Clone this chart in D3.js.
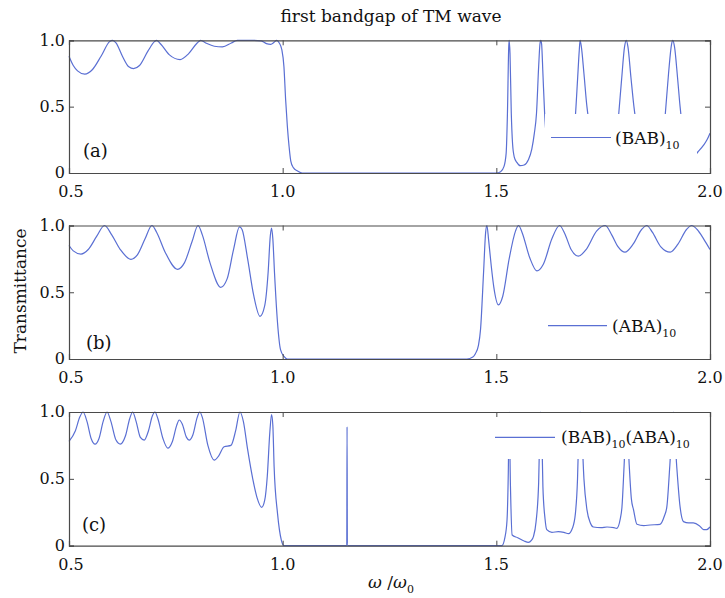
<!DOCTYPE html>
<html><head><meta charset="utf-8">
<script src="https://cdn.jsdelivr.net/npm/d3@7"></script>
<style>
html,body{margin:0;padding:0;background:#fff;}
svg{display:block;font-family:"DejaVu Serif",serif;}
</style></head>
<body>
<svg id="chart" width="725" height="598"></svg>
<script>
// ---------- data ----------
const titleText = "first bandgap of TM wave";
const yAxisTitle = "Transmittance";
const xTicks = [0.5, 1.0, 1.5, 2.0];
const xTickLabels = ["0.5", "1.0", "1.5", "2.0"];
const yTicks = [0, 0.5, 1.0];
const yTickLabels = ["0", "0.5", "1.0"];
const panelLabels = ["(a)", "(b)", "(c)"];
const seriesNames = ["(BAB)10", "(ABA)10", "(BAB)10(ABA)10"];

const omegaA = [0.500,0.510,0.520,0.537,0.555,0.575,0.595,0.602,0.610,0.625,0.640,0.651,0.665,0.685,0.700,0.705,0.715,0.735,0.760,0.780,0.800,0.808,0.820,0.840,0.859,0.880,0.894,0.930,0.950,0.962,0.972,0.980,0.986,0.992,0.998,1.003,1.007,1.011,1.015,1.019,1.025,1.035,1.046,1.500,1.510,1.518,1.523,1.526,1.529,1.530,1.532,1.535,1.538,1.542,1.548,1.556,1.565,1.575,1.583,1.589,1.594,1.599,1.602,1.604,1.606,1.609,1.613,1.620,1.635,1.655,1.672,1.680,1.685,1.690,1.694,1.696,1.699,1.705,1.712,1.716,1.725,1.745,1.765,1.778,1.786,1.793,1.800,1.804,1.808,1.815,1.822,1.826,1.835,1.855,1.875,1.888,1.895,1.903,1.910,1.913,1.917,1.924,1.930,1.934,1.945,1.960,1.972,1.985,1.993,2.000];
const transA = [0.88,0.81,0.77,0.745,0.78,0.88,0.99,1.00,0.98,0.88,0.80,0.787,0.81,0.92,0.99,1.00,0.97,0.89,0.855,0.90,0.98,1.00,0.98,0.955,0.95,0.98,1.00,1.00,0.995,0.975,0.97,0.985,1.00,0.98,0.93,0.80,0.55,0.35,0.20,0.09,0.04,0.015,0.0,0.0,0.01,0.05,0.15,0.45,0.95,1.0,0.9,0.45,0.22,0.12,0.08,0.055,0.06,0.10,0.18,0.30,0.45,0.80,0.97,1.0,0.97,0.75,0.45,0.20,0.08,0.05,0.10,0.25,0.43,0.70,0.92,1.0,0.95,0.75,0.50,0.40,0.20,0.08,0.06,0.15,0.43,0.70,0.95,1.0,0.95,0.72,0.50,0.40,0.20,0.08,0.08,0.20,0.43,0.75,0.97,1.0,0.95,0.72,0.50,0.38,0.18,0.12,0.16,0.21,0.25,0.30];

const omegaB = [0.500,0.510,0.528,0.545,0.565,0.583,0.600,0.620,0.645,0.660,0.678,0.694,0.705,0.725,0.754,0.770,0.788,0.802,0.812,0.830,0.855,0.870,0.885,0.899,0.905,0.918,0.932,0.947,0.958,0.966,0.971,0.974,0.977,0.981,0.988,0.995,1.003,1.011,1.431,1.445,1.451,1.458,1.463,1.470,1.475,1.478,1.482,1.488,1.494,1.505,1.515,1.530,1.545,1.552,1.560,1.578,1.595,1.610,1.630,1.648,1.660,1.675,1.692,1.710,1.735,1.755,1.770,1.785,1.801,1.820,1.840,1.852,1.865,1.885,1.907,1.925,1.945,1.957,1.970,1.985,2.000];
const transB = [0.85,0.81,0.786,0.82,0.92,1.0,0.93,0.82,0.747,0.78,0.90,1.0,0.95,0.80,0.672,0.72,0.88,1.0,0.93,0.72,0.537,0.60,0.82,0.99,0.97,0.75,0.48,0.32,0.40,0.65,0.92,0.98,0.90,0.64,0.27,0.07,0.02,0.0,0.0,0.015,0.04,0.10,0.22,0.64,0.95,1.0,0.89,0.70,0.54,0.405,0.47,0.75,0.96,1.0,0.95,0.76,0.66,0.71,0.90,1.0,0.94,0.82,0.77,0.82,0.96,1.0,0.93,0.84,0.80,0.86,0.97,1.0,0.95,0.84,0.80,0.86,0.97,1.0,0.97,0.90,0.82];

const omegaC = [0.500,0.515,0.525,0.533,0.542,0.552,0.561,0.570,0.580,0.589,0.598,0.610,0.620,0.632,0.642,0.649,0.657,0.667,0.676,0.686,0.695,0.701,0.708,0.720,0.731,0.742,0.752,0.758,0.765,0.775,0.781,0.790,0.800,0.806,0.812,0.825,0.840,0.850,0.863,0.879,0.890,0.900,0.908,0.918,0.930,0.940,0.951,0.958,0.964,0.970,0.974,0.977,0.980,0.988,0.997,1.003,1.1500,1.1507,1.1514,1.513,1.520,1.525,1.528,1.530,1.533,1.537,1.550,1.565,1.575,1.582,1.587,1.593,1.599,1.602,1.604,1.606,1.609,1.614,1.618,1.630,1.645,1.658,1.669,1.678,1.685,1.690,1.693,1.696,1.700,1.705,1.712,1.720,1.727,1.745,1.759,1.775,1.782,1.790,1.794,1.799,1.805,1.811,1.816,1.821,1.829,1.845,1.860,1.883,1.893,1.899,1.906,1.914,1.922,1.930,1.938,1.950,1.961,1.975,1.985,1.992,2.000];
const transC = [0.78,0.86,0.96,1.0,0.93,0.80,0.76,0.80,0.93,1.0,0.93,0.79,0.76,0.82,0.95,1.0,0.93,0.81,0.79,0.86,0.97,1.0,0.95,0.80,0.73,0.78,0.90,0.94,0.91,0.81,0.79,0.83,0.96,1.0,0.96,0.75,0.64,0.67,0.74,0.75,0.86,1.0,0.93,0.72,0.50,0.36,0.287,0.34,0.52,0.85,0.98,0.90,0.59,0.24,0.04,0.0,0.0,0.89,0.0,0.0,0.06,0.19,0.55,1.0,0.45,0.08,0.06,0.035,0.025,0.04,0.07,0.18,0.47,0.90,1.0,0.90,0.44,0.20,0.12,0.10,0.105,0.10,0.09,0.13,0.24,0.50,0.85,1.0,0.85,0.50,0.27,0.17,0.14,0.135,0.14,0.135,0.13,0.20,0.29,0.60,1.0,0.60,0.35,0.27,0.16,0.15,0.155,0.16,0.22,0.29,0.60,1.0,0.60,0.29,0.18,0.17,0.17,0.15,0.12,0.12,0.14];

// ---------- drawing ----------
const svg = d3.select("#chart");
const lineColor = "#5a6fd3";
const frameColor = "#4a4a4a";
const x = d3.scaleLinear().domain([0.5, 2.0]).range([69, 710]);

const panels = [
  {om: omegaA, tr: transA, top: 40.3, bottom: 173, label: panelLabels[0], lx: 83, ly: 157,
   box: [545, 114, 697, 172], leg: {x1: 551, x2: 611, y: 137.5, tx: 615}, name: [["(BAB)", "10"]]},
  {om: omegaB, tr: transB, top: 225.5, bottom: 359, label: panelLabels[1], lx: 86, ly: 349,
   box: null, leg: {x1: 548, x2: 607, y: 325.7, tx: 612}, name: [["(ABA)", "10"]]},
  {om: omegaC, tr: transC, top: 412, bottom: 545.7, label: panelLabels[2], lx: 82, ly: 531,
   box: [490, 413, 708, 459], leg: {x1: 495, x2: 555, y: 437.3, tx: 561}, name: [["(BAB)", "10"], ["(ABA)", "10"]]}
];

panels.forEach(p => {
  const y = d3.scaleLinear().domain([0, 1]).range([p.bottom, p.top]);
  const g = svg.append("g");
  const data = p.om.map((o, i) => [o, p.tr[i]]);
  g.append("path")
    .datum(data)
    .attr("fill", "none")
    .attr("stroke", lineColor)
    .attr("stroke-width", 1.2)
    .attr("d", d3.line().curve(d3.curveMonotoneX).x(d => x(d[0])).y(d => y(d[1])));

  if (p.box) {
    g.append("rect").attr("x", p.box[0]).attr("y", p.box[1])
      .attr("width", p.box[2] - p.box[0]).attr("height", p.box[3] - p.box[1])
      .attr("fill", "#fff");
  }

  // axes with inward ticks
  const axB = d3.axisBottom(x).tickValues(xTicks).tickSize(-5).tickFormat("");
  const axT = d3.axisTop(x).tickValues(xTicks).tickSize(-5).tickFormat("");
  const axL = d3.axisLeft(y).tickValues(yTicks).tickSize(-5).tickFormat("");
  const axR = d3.axisRight(y).tickValues(yTicks).tickSize(-5).tickFormat("");
  [[axB, `translate(0,${p.bottom})`], [axT, `translate(0,${p.top})`],
   [axL, `translate(${x.range()[0]},0)`], [axR, `translate(${x.range()[1]},0)`]].forEach(([ax, tf]) => {
    const a = g.append("g").attr("transform", tf).call(ax);
    a.selectAll("path.domain").attr("stroke", frameColor).attr("stroke-width", 1.2);
    a.selectAll("line").attr("stroke", frameColor).attr("stroke-width", 1);
  });

  // tick labels
  xTicks.forEach((t, i) => {
    g.append("text").attr("x", x(t) + (i === 0 ? 2 : 0)).attr("y", p.bottom + 24)
      .attr("text-anchor", "middle").attr("font-size", 16).attr("fill", "#111")
      .text(xTickLabels[i]);
  });
  yTicks.forEach((t, i) => {
    g.append("text").attr("x", 65).attr("y", y(t)).attr("dy", "0.33em")
      .attr("text-anchor", "end").attr("font-size", 16).attr("fill", "#111")
      .text(yTickLabels[i]);
  });

  // panel label
  g.append("text").attr("x", p.lx).attr("y", p.ly).attr("font-size", 18).attr("fill", "#111").text(p.label);

  // legend
  g.append("line").attr("x1", p.leg.x1).attr("x2", p.leg.x2).attr("y1", p.leg.y).attr("y2", p.leg.y)
    .attr("stroke", lineColor).attr("stroke-width", 1.2);
  const t = g.append("text").attr("x", p.leg.tx).attr("y", p.leg.y + 6).attr("font-size", 17).attr("fill", "#111");
  p.name.forEach((nm, k) => {
    t.append("tspan").attr("dy", k === 0 ? 0 : -5).attr("font-size", 17).text(nm[0]);
    t.append("tspan").attr("dy", 5).attr("font-size", 11).text(nm[1]);
  });
});

// title
svg.append("text").attr("x", 391).attr("y", 22).attr("text-anchor", "middle")
  .attr("font-size", 17).attr("fill", "#111").text(titleText);

// y-axis title
svg.append("text").attr("transform", "translate(26,291) rotate(-90)")
  .attr("text-anchor", "middle").attr("font-size", 17).attr("fill", "#111").text(yAxisTitle);

// x-axis title
const xt = svg.append("text").attr("x", 368).attr("y", 588).attr("font-size", 17).attr("fill", "#111");
xt.append("tspan").attr("font-style", "italic").text("ω");
xt.append("tspan").text(" /");
xt.append("tspan").attr("font-style", "italic").text("ω");
xt.append("tspan").attr("dy", 5).attr("font-size", 11).text("0");
</script>
</body></html>
